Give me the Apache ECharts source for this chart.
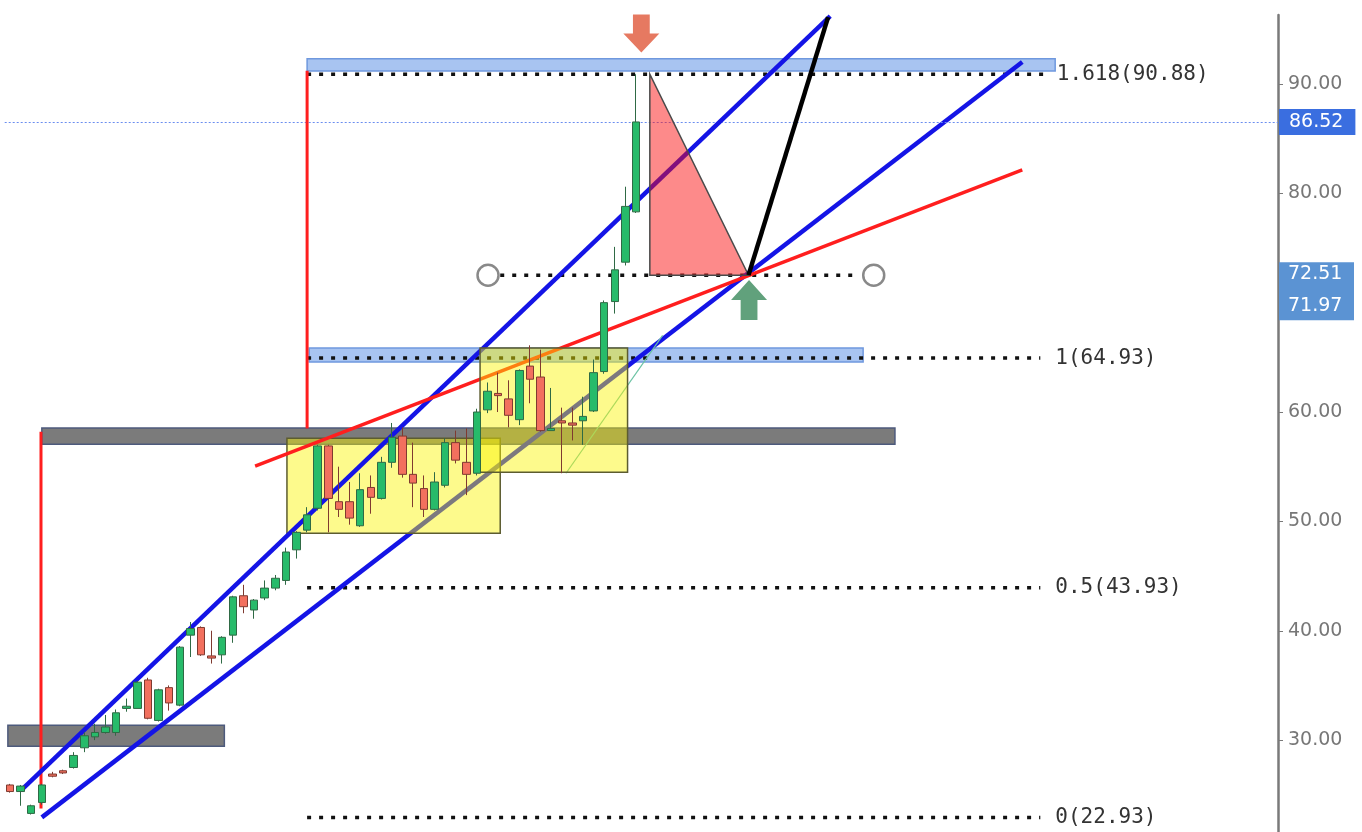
<!DOCTYPE html>
<html>
<head>
<meta charset="utf-8">
<script src="https://cdn.jsdelivr.net/npm/echarts@6/dist/echarts.min.js"></script>
<style>
  html, body { margin: 0; padding: 0; background: #fff; }
  #chart { width: 1362px; height: 832px; }
</style>
</head>
<body>
<div id="chart"></div>
<script>
// slots on the time axis (candles + empty space to the right)
const slotCount = 120;
const categories = Array.from({ length: slotCount }, (_, i) => 'D' + (i + 1));

// [open, close, low, high]
const ohlc = [
  [25.9, 25.3, 25.2, 26.0], [25.3, 25.8, 24.0, 25.9], [23.3, 24.0, 23.2, 24.1], [24.3, 25.9, 24.1, 26.0],
  [26.9, 26.7, 26.6, 27.1], [27.2, 27.0, 26.9, 27.3], [27.5, 28.6, 27.4, 28.9], [29.3, 30.4, 28.9, 30.7],
  [30.3, 30.7, 30.0, 31.5], [30.7, 31.2, 30.6, 32.3], [30.7, 32.5, 30.4, 32.8], [32.9, 33.1, 32.6, 33.8],
  [32.9, 35.3, 32.9, 35.4], [35.5, 32.0, 31.9, 35.7], [31.8, 34.6, 31.7, 34.7], [34.8, 33.4, 32.7, 35.0],
  [33.2, 38.5, 33.1, 38.6], [39.6, 40.2, 37.6, 40.8], [40.3, 37.8, 37.7, 40.4], [37.7, 37.5, 37.0, 40.0],
  [37.8, 39.4, 37.0, 39.5], [39.6, 43.1, 38.9, 43.2], [43.2, 42.2, 41.6, 44.2], [41.9, 42.8, 41.1, 42.9],
  [43.0, 43.9, 42.8, 44.6], [43.9, 44.8, 43.7, 45.1], [44.6, 47.2, 44.2, 47.6], [47.4, 49.0, 46.6, 49.1],
  [49.2, 50.6, 49.0, 51.3], [51.2, 56.9, 51.0, 57.0], [56.9, 52.1, 49.0, 57.0], [51.8, 51.1, 50.4, 55.0],
  [51.8, 50.3, 49.7, 53.6], [49.6, 52.9, 49.5, 54.4], [53.1, 52.2, 50.7, 54.2], [52.1, 55.4, 52.0, 55.9],
  [55.4, 57.7, 54.9, 59.0], [57.8, 54.3, 54.0, 58.6], [54.3, 53.5, 51.3, 57.2], [53.0, 51.1, 50.4, 54.2],
  [51.1, 53.6, 51.0, 54.5], [53.3, 57.2, 53.1, 57.6], [57.2, 55.6, 55.3, 58.3], [55.4, 54.3, 52.4, 58.5],
  [54.4, 60.0, 54.2, 60.3], [60.2, 61.9, 59.9, 62.7], [61.7, 61.5, 60.0, 63.6], [61.2, 59.7, 58.6, 62.9],
  [59.3, 63.8, 58.8, 63.9], [64.2, 63.0, 60.8, 66.1], [63.2, 58.3, 58.2, 65.7], [58.3, 58.5, 58.3, 62.2],
  [59.2, 59.0, 54.4, 60.4], [59.0, 58.8, 57.4, 60.4], [59.2, 59.6, 57.0, 61.4], [60.1, 63.6, 60.0, 64.8],
  [63.7, 70.0, 63.5, 70.2], [70.1, 73.0, 69.0, 75.1], [73.7, 78.8, 73.4, 80.6], [78.3, 86.52, 78.2, 90.88]
];

const yTicks = [30, 40, 50, 60, 70, 80, 90];
const lastPrice = 86.52;
const tagValues = [72.51, 71.97];

// fibonacci levels
const fibRatios = ['1.618', '1', '0.5', '0'];
const fibLevels = [90.88, 64.93, 43.93, 22.93];
const fibSpan = [[28.0, 98.0], [28.0, 97.1], [28.0, 97.1], [28.0, 97.1]];

// drawings, [slot, price]
const upperChannel = [[1.04, 25.4], [77.3, 96.2]];
const lowerChannel = [[3.0, 22.94], [95.4, 92.0]];
const redTrend = [[23.1, 55.05], [95.4, 82.13]];
const blackLeg = [[69.6, 72.51], [77.1, 96.1]];
const thinTrend = [[52.4, 54.4], [61.5, 67.0]];
const redDrops = [
  [[2.92, 58.2], [2.92, 23.76]],
  [[28.0, 91.2], [28.0, 58.5]]
];
const triangle = [[60.3, 90.88], [60.3, 72.51], [69.6, 72.51]];
const rangeLine = [[46.2, 72.51], [80.1, 72.51]];
const rangeEnds = [[45.05, 72.51], [81.4, 72.51]];
const arrowDown = [[59.5, 94.6]];
const arrowUp = [[69.65, 70.24]];

// boxes, [x1, y1, x2, y2]
const grayBands = [[3.0, 58.53, 83.4, 57.06], [-0.2, 31.35, 20.2, 29.43]];
const blueBands = [[28.0, 92.29, 98.5, 91.19], [28.2, 65.85, 80.4, 64.57]];
const yellowBox1 = [[26.1, 57.61, 46.2, 48.92]];
const yellowBox2 = [[44.3, 65.85, 58.2, 54.5]];

let chart = echarts.init(document.getElementById('chart'));

const boxSeries = (boxes, style, z) => ({
  type: 'custom',
  xAxisIndex: 1,
  yAxisIndex: 0,
  z: z,
  silent: true,
  data: boxes,
  encode: { x: [0, 2], y: [1, 3] },
  renderItem: (params, api) => {
    const a = api.coord([api.value(0), api.value(1)]);
    const b = api.coord([api.value(2), api.value(3)]);
    return {
      type: 'rect',
      shape: {
        x: Math.min(a[0], b[0]),
        y: Math.min(a[1], b[1]),
        width: Math.abs(b[0] - a[0]),
        height: Math.abs(b[1] - a[1])
      },
      style: style
    };
  }
});

const segSeries = (points, color, width, z, type) => ({
  type: 'line',
  xAxisIndex: 1,
  yAxisIndex: 0,
  data: points,
  symbol: 'none',
  silent: true,
  z: z,
  lineStyle: { color: color, width: width, type: type || 'solid', cap: 'butt' }
});

let series = [];

series.push(boxSeries(grayBands, { fill: '#7b7b7b', stroke: '#4d5a7c', lineWidth: 1.5 }, 1));
series.push(boxSeries(blueBands, { fill: '#a8c4f1', stroke: '#6f98de', lineWidth: 1.5 }, 1));

fibLevels.forEach((level, i) => {
  let s = segSeries([[fibSpan[i][0], level], [fibSpan[i][1], level]], '#111', 3.5, 2, [4, 8]);
  s.endLabel = {
    show: true,
    formatter: fibRatios[i] + '(' + level.toFixed(2) + ')',
    fontFamily: 'DejaVu Sans Mono',
    fontSize: 21,
    color: '#333',
    distance: i === 0 ? 7 : 15
  };
  series.push(s);
});
series.push(segSeries(rangeLine, '#111', 3.5, 2, [4, 8]));

series.push(segSeries(lowerChannel, '#1414e6', 4.5, 3));
series.push(segSeries(thinTrend, '#6cc3a4', 1.2, 3));
series.push(boxSeries(yellowBox1, { fill: 'rgba(250,245,0,0.45)', stroke: '#5c5c30', lineWidth: 1.5 }, 4));
redDrops.forEach(d => series.push(segSeries(d, '#ff1e1e', 3, 5)));
series.push(segSeries(upperChannel, '#1414e6', 4.5, 5));
series.push(segSeries(redTrend, '#ff1e1e', 3.5, 5));
series.push(boxSeries(yellowBox2, { fill: 'rgba(250,245,0,0.45)', stroke: '#5c5c30', lineWidth: 1.5 }, 6));

series.push({
  type: 'candlestick',
  xAxisIndex: 0,
  yAxisIndex: 0,
  z: 7,
  barWidth: 8,
  data: ohlc,
  itemStyle: {
    color: '#27bb6a',
    color0: '#f2705e',
    borderColor: '#2f6a45',
    borderColor0: '#7f3a30',
    borderWidth: 1
  },
  markLine: {
    symbol: ['none', 'none'],
    silent: true,
    animation: false,
    lineStyle: { color: '#6a8df0', type: [2, 2], width: 1 },
    label: {
      position: 'end',
      distance: 1,
      formatter: lastPrice.toFixed(2),
      backgroundColor: '#3a6ee0',
      color: '#fff',
      padding: [4, 12, 3, 10],
      fontFamily: 'DejaVu Sans',
      fontSize: 19
    },
    data: [{ yAxis: lastPrice }]
  }
});

// triangle over the lines
series.push({
  type: 'custom',
  xAxisIndex: 1,
  yAxisIndex: 0,
  z: 8,
  silent: true,
  data: [0],
  renderItem: (params, api) => ({
    type: 'polygon',
    shape: { points: triangle.map(p => api.coord(p)) },
    style: { fill: 'rgba(250,10,10,0.48)', stroke: '#4a4a4a', lineWidth: 1.5 }
  })
});
series.push(segSeries(blackLeg, '#000', 4.5, 9));

series.push({
  type: 'scatter',
  xAxisIndex: 1,
  yAxisIndex: 0,
  z: 9,
  silent: true,
  data: rangeEnds,
  symbol: 'circle',
  symbolSize: 21,
  itemStyle: { color: '#fff', borderColor: '#6b6b6b', borderWidth: 2.5 }
});
series.push({
  type: 'scatter',
  xAxisIndex: 1,
  yAxisIndex: 0,
  z: 9,
  silent: true,
  data: arrowDown,
  symbol: 'path://M8,0 L22,0 L22,15 L30,15 L15,30 L0,15 L8,15 Z',
  symbolSize: [36, 38],
  itemStyle: { color: '#e0573a' }
});
series.push({
  type: 'scatter',
  xAxisIndex: 1,
  yAxisIndex: 0,
  z: 9,
  silent: true,
  data: arrowUp,
  symbol: 'path://M15,0 L30,15 L22,15 L22,30 L8,30 L8,15 L0,15 Z',
  symbolSize: [36, 40],
  itemStyle: { color: '#3a8a5b' }
});

let option = {
  animation: false,
  backgroundColor: '#fff',
  grid: { left: 4.7, right: 84, top: 15, bottom: 0 },
  xAxis: [
    { type: 'category', data: categories, show: false, boundaryGap: true },
    { type: 'value', min: -0.5, max: slotCount - 0.5, show: false }
  ],
  yAxis: {
    type: 'value',
    position: 'right',
    min: 21.6,
    max: 96.3,
    splitLine: { show: false },
    axisLine: { show: true, onZero: false, lineStyle: { color: '#7a7a7a', width: 2.5 } },
    axisTick: { show: true, length: 5, customValues: yTicks, lineStyle: { color: '#7a7a7a' } },
    axisLabel: {
      customValues: yTicks,
      formatter: v => v.toFixed(2),
      color: '#777',
      fontFamily: 'DejaVu Sans',
      fontSize: 19,
      margin: 10
    }
  },
  series: series
};
chart.setOption(option, true);

// stacked tags on the price axis
const axisX = chart.convertToPixel({ xAxisIndex: 1 }, slotCount - 0.5);
const tagY = chart.convertToPixel({ yAxisIndex: 0 }, tagValues[0]);
chart.setOption({
  graphic: [
    { type: 'rect', z: 100, shape: { x: axisX + 1, y: tagY - 13, width: 75, height: 58 }, style: { fill: '#5b93d3' } },
    { type: 'text', z: 101, x: axisX + 10, y: tagY - 11, style: { text: tagValues[0].toFixed(2), fill: '#fff', font: '19px "DejaVu Sans"' } },
    { type: 'text', z: 101, x: axisX + 10, y: tagY + 21, style: { text: tagValues[1].toFixed(2), fill: '#fff', font: '19px "DejaVu Sans"' } }
  ]
});

window.addEventListener('resize', function () {
  chart.resize();
});
</script>
</body>
</html>
